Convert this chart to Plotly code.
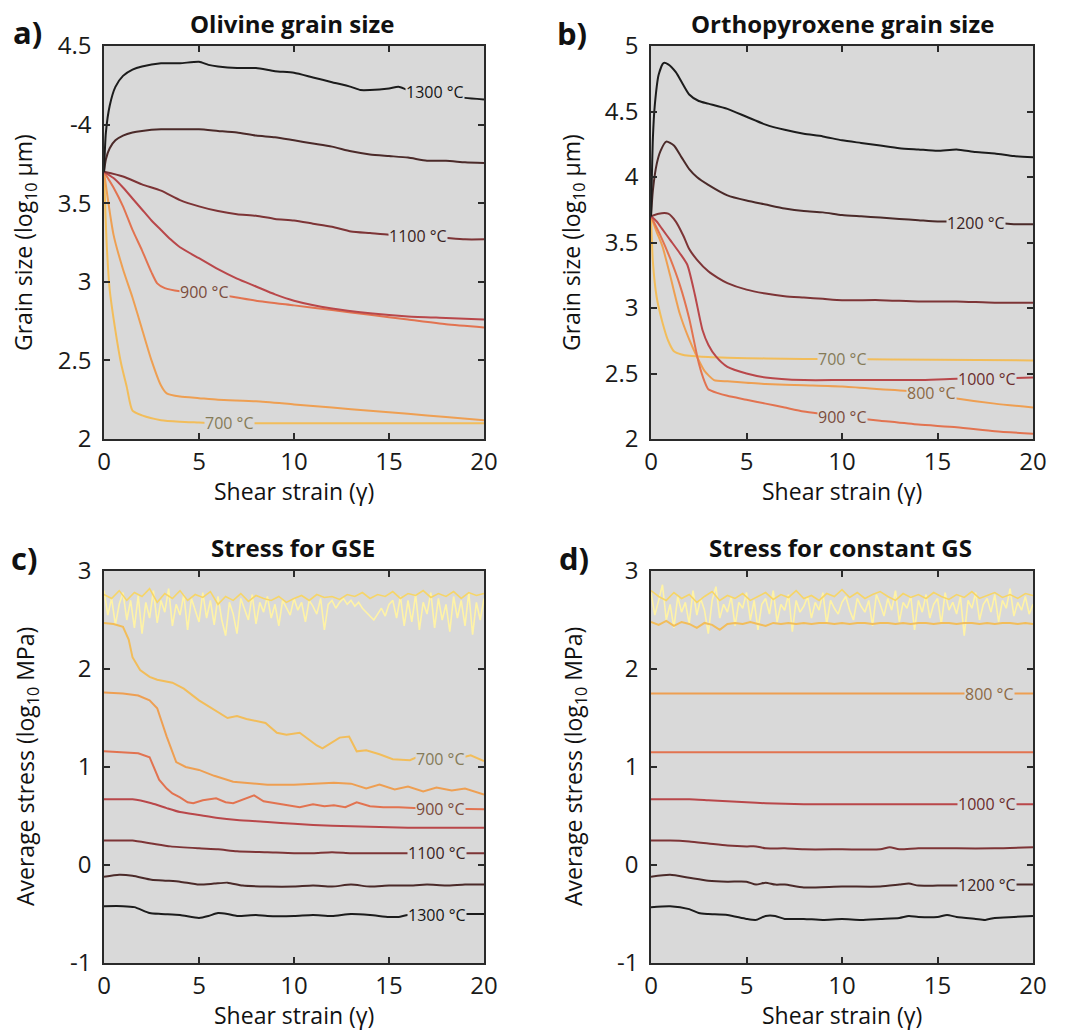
import numpy as np
import plotly.graph_objects as go

W, H = 1068, 1030
FONT = "Open Sans"
BG = "#d9d9d9"

# ---- colours per temperature ----
COL = {
    500: "#fff3a6", 600: "#f6d568", 700: "#f2bd5a", 800: "#ee9f52",
    900: "#e27350", 1000: "#b9474a", 1100: "#7d3436", 1200: "#4b2a29",
    1300: "#1c1c1c",
}
LBL = {
    700: "#857b58", 800: "#8d6a45", 900: "#7b4c3c", 1000: "#6b2d2d",
    1100: "#3a2323", 1200: "#3a2323", 1300: "#151515",
}

# ---- a) olivine grain size (log10 um) ----
ol_1300_x = [0, 0.1, 0.3, 0.6, 1, 1.5, 2, 3, 4, 5, 5.5, 6, 7, 8, 9, 10, 11, 12, 13, 13.5, 14, 15, 15.5, 16, 17, 18, 19, 20]
ol_1300_y = [3.7, 3.95, 4.12, 4.24, 4.31, 4.35, 4.37, 4.39, 4.39, 4.40, 4.38, 4.37, 4.36, 4.36, 4.34, 4.33, 4.30, 4.27, 4.24, 4.22, 4.22, 4.23, 4.24, 4.22, 4.20, 4.19, 4.17, 4.16]
ol_1200_x = [0, 0.1, 0.3, 0.6, 1, 1.5, 2, 3, 4, 5, 6, 7, 8, 9, 10, 11, 12, 13, 14, 15, 16, 17, 18, 19, 20]
ol_1200_y = [3.7, 3.78, 3.85, 3.9, 3.93, 3.95, 3.96, 3.97, 3.97, 3.97, 3.96, 3.95, 3.93, 3.92, 3.90, 3.88, 3.86, 3.83, 3.81, 3.80, 3.79, 3.77, 3.77, 3.76, 3.755]
ol_1100_x = [0, 1, 2, 3, 4, 5, 6, 7, 8, 9, 10, 11, 12, 13, 14, 15, 16, 17, 18, 19, 20]
ol_1100_y = [3.7, 3.67, 3.62, 3.58, 3.52, 3.48, 3.45, 3.43, 3.42, 3.40, 3.39, 3.37, 3.35, 3.32, 3.31, 3.30, 3.30, 3.29, 3.28, 3.27, 3.27]
ol_1000_x = [0, 0.5, 1, 1.5, 2, 2.5, 3, 3.5, 4, 5, 6, 7, 8, 9, 10, 12, 14, 16, 18, 20]
ol_1000_y = [3.7, 3.66, 3.6, 3.53, 3.46, 3.39, 3.33, 3.27, 3.22, 3.15, 3.08, 3.02, 2.97, 2.92, 2.88, 2.83, 2.80, 2.78, 2.77, 2.76]
ol_900_x = [0, 0.5, 1, 1.5, 2, 2.5, 2.8, 3.2, 4, 5, 6, 7, 8, 10, 12, 14, 16, 18, 20]
ol_900_y = [3.7, 3.6, 3.48, 3.33, 3.2, 3.06, 2.99, 2.96, 2.94, 2.93, 2.92, 2.90, 2.88, 2.85, 2.82, 2.79, 2.76, 2.73, 2.71]
ol_800_x = [0, 0.5, 1, 1.5, 2, 2.5, 3, 3.3, 4, 5, 6, 8, 10, 12, 14, 16, 18, 20]
ol_800_y = [3.7, 3.3, 3.08, 2.90, 2.70, 2.50, 2.34, 2.29, 2.27, 2.26, 2.25, 2.24, 2.22, 2.20, 2.18, 2.16, 2.14, 2.12]
ol_700_x = [0, 0.15, 0.3, 0.6, 0.9, 1.2, 1.5, 2, 3, 4, 5, 6, 8, 10, 15, 20]
ol_700_y = [3.7, 3.22, 2.95, 2.69, 2.48, 2.33, 2.18, 2.15, 2.12, 2.11, 2.105, 2.1, 2.1, 2.1, 2.1, 2.1]

# ---- b) orthopyroxene grain size (log10 um) ----
opx_1300_x = [0, 0.1, 0.2, 0.4, 0.65, 0.9, 1.3, 1.7, 2, 2.5, 3, 4, 5, 6, 7, 8, 9, 10, 11, 12, 13, 14, 15, 16, 17, 18, 19, 20]
opx_1300_y = [3.7, 4.3, 4.55, 4.78, 4.87, 4.86, 4.80, 4.70, 4.63, 4.58, 4.56, 4.52, 4.46, 4.40, 4.36, 4.33, 4.31, 4.28, 4.26, 4.24, 4.22, 4.21, 4.20, 4.21, 4.19, 4.18, 4.16, 4.15]
opx_1200_x = [0, 0.1, 0.3, 0.5, 0.8, 1.2, 1.6, 2, 2.4, 3, 4, 5, 6, 7, 8, 9, 10, 11, 12, 13, 14, 15, 16, 17, 18, 19, 20]
opx_1200_y = [3.7, 3.9, 4.1, 4.2, 4.27, 4.24, 4.15, 4.06, 4.00, 3.94, 3.86, 3.82, 3.79, 3.76, 3.74, 3.73, 3.71, 3.70, 3.69, 3.68, 3.67, 3.66, 3.66, 3.65, 3.65, 3.64, 3.64]
opx_1100_x = [0, 0.4, 0.9, 1.3, 1.7, 2, 2.4, 3, 3.5, 4, 5, 6, 7, 8, 9, 10, 12, 14, 16, 18, 20]
opx_1100_y = [3.7, 3.72, 3.72, 3.66, 3.55, 3.45, 3.37, 3.28, 3.23, 3.19, 3.14, 3.11, 3.09, 3.08, 3.07, 3.06, 3.06, 3.05, 3.05, 3.04, 3.04]
opx_1000_x = [0, 0.3, 0.6, 1, 1.5, 1.9, 2.3, 2.7, 3, 3.4, 4, 5, 6, 8, 10, 12, 14, 16, 18, 20]
opx_1000_y = [3.7, 3.66, 3.6, 3.52, 3.42, 3.33, 3.10, 2.83, 2.72, 2.63, 2.55, 2.50, 2.47, 2.45, 2.45, 2.45, 2.45, 2.46, 2.46, 2.47]
opx_900_x = [0, 0.5, 1, 1.5, 2, 2.5, 2.8, 3, 3.5, 4, 5, 6, 7, 8, 9, 10, 12, 14, 16, 18, 20]
opx_900_y = [3.7, 3.55, 3.38, 3.18, 2.92, 2.58, 2.44, 2.38, 2.35, 2.33, 2.30, 2.27, 2.24, 2.21, 2.19, 2.17, 2.14, 2.11, 2.09, 2.06, 2.04]
opx_800_x = [0, 0.3, 0.6, 1, 1.5, 2, 2.4, 2.8, 3.3, 4, 5, 6, 8, 10, 12, 14, 16, 18, 20]
opx_800_y = [3.7, 3.58, 3.47, 3.25, 2.96, 2.76, 2.63, 2.52, 2.45, 2.44, 2.43, 2.42, 2.41, 2.40, 2.38, 2.36, 2.31, 2.27, 2.24]
opx_700_x = [0, 0.1, 0.3, 0.6, 0.9, 1.2, 1.6, 2, 3, 4, 6, 8, 10, 15, 20]
opx_700_y = [3.7, 3.35, 3.08, 2.89, 2.75, 2.67, 2.645, 2.635, 2.625, 2.62, 2.615, 2.61, 2.61, 2.605, 2.60]

# ---- c) average stress with grain-size evolution (log10 MPa) ----
gse_500_y = [2.80, 2.55, 2.72, 2.45, 2.66, 2.78, 2.50, 2.70, 2.42, 2.75,
             2.36, 2.68, 2.52, 2.80, 2.47, 2.70, 2.58, 2.82, 2.44, 2.66,
             2.55, 2.76, 2.40, 2.72, 2.60, 2.48, 2.78, 2.52, 2.70, 2.45,
             2.74, 2.50, 2.34, 2.68, 2.56, 2.36, 2.72, 2.60, 2.50, 2.76,
             2.46, 2.68, 2.58, 2.74, 2.52, 2.66, 2.44, 2.70, 2.62, 2.55,
             2.72, 2.60, 2.68, 2.48, 2.70, 2.64, 2.56, 2.72, 2.40, 2.66,
             2.70, 2.62, 2.68, 2.72, 2.66, 2.70, 2.64, 2.68, 2.62, 2.58,
             2.55, 2.50, 2.56, 2.62, 2.54, 2.66, 2.70, 2.52, 2.74, 2.44,
             2.70, 2.48, 2.76, 2.40, 2.68, 2.56, 2.78, 2.42, 2.72, 2.50,
             2.66, 2.38, 2.74, 2.52, 2.70, 2.44, 2.78, 2.35, 2.68, 2.50, 2.72]
gse_600_y = [2.76, 2.72, 2.80, 2.70, 2.78, 2.74, 2.82, 2.68, 2.77, 2.72,
             2.80, 2.70, 2.76, 2.73, 2.79, 2.66, 2.74, 2.70, 2.77, 2.69,
             2.75, 2.72, 2.70, 2.74, 2.68, 2.72, 2.75, 2.70, 2.76, 2.73,
             2.74, 2.71, 2.76, 2.74, 2.78, 2.72, 2.76, 2.74, 2.79, 2.72,
             2.77, 2.75, 2.80, 2.73, 2.77, 2.74, 2.79, 2.72, 2.78, 2.75, 2.77]
gse_700_x = [0, 0.5, 1, 1.3, 1.5, 1.9, 2.4, 2.8, 3.6, 4.2, 5, 5.5, 6.5, 7, 7.5, 8.5, 9.1, 9.6, 10.3, 11.2, 11.5, 12.4, 12.9, 13.3, 13.8, 14.5, 15.2, 16.1, 16.7, 17.5, 18.5, 19.3, 20]
gse_700_y = [2.47, 2.46, 2.43, 2.30, 2.12, 1.99, 1.92, 1.89, 1.86, 1.80, 1.68, 1.62, 1.50, 1.52, 1.49, 1.45, 1.35, 1.33, 1.35, 1.22, 1.19, 1.30, 1.31, 1.16, 1.17, 1.13, 1.08, 1.07, 1.12, 1.10, 1.08, 1.12, 1.06]
gse_800_x = [0, 1, 1.8, 2.4, 2.8, 3.3, 3.8, 4.3, 5, 5.8, 6.8, 8.6, 10, 12.1, 13, 13.8, 14.5, 15.3, 16, 16.8, 17.5, 18.3, 19, 20]
gse_800_y = [1.76, 1.75, 1.73, 1.68, 1.60, 1.31, 1.05, 1.00, 0.97, 0.91, 0.85, 0.82, 0.82, 0.84, 0.83, 0.78, 0.82, 0.77, 0.80, 0.75, 0.79, 0.76, 0.78, 0.72]
gse_900_x = [0, 1, 1.8, 2.4, 2.9, 3.3, 3.6, 4.0, 4.4, 4.7, 5.2, 5.9, 6.4, 6.8, 7.3, 7.9, 8.4, 9.0, 9.6, 10.3, 11, 11.6, 12.1, 12.7, 13.3, 14, 14.7, 15.5, 16.6, 20]
gse_900_y = [1.16, 1.15, 1.14, 1.10, 0.87, 0.78, 0.73, 0.69, 0.64, 0.63, 0.66, 0.68, 0.64, 0.63, 0.67, 0.71, 0.65, 0.63, 0.61, 0.59, 0.62, 0.60, 0.61, 0.59, 0.64, 0.60, 0.59, 0.59, 0.58, 0.57]
gse_1000_x = [0, 1, 1.5, 2.5, 3.3, 4, 5, 6, 7, 8.6, 10, 12, 14, 16, 18, 20]
gse_1000_y = [0.67, 0.67, 0.67, 0.63, 0.58, 0.54, 0.51, 0.48, 0.46, 0.44, 0.42, 0.40, 0.39, 0.38, 0.38, 0.38]
gse_1100_x = [0, 1, 1.5, 2.5, 3.5, 5, 6, 7, 8.6, 10, 11, 12, 13, 14, 15, 16, 18, 20]
gse_1100_y = [0.25, 0.25, 0.25, 0.22, 0.19, 0.17, 0.16, 0.14, 0.13, 0.12, 0.12, 0.13, 0.12, 0.12, 0.12, 0.12, 0.12, 0.12]
gse_1200_x = [0, 0.8, 1.5, 2.5, 3.3, 4, 5, 5.8, 6.5, 7.3, 8.6, 10, 11, 12, 13, 14, 15, 16, 17, 18, 19, 20]
gse_1200_y = [-0.12, -0.10, -0.11, -0.15, -0.16, -0.17, -0.20, -0.19, -0.18, -0.21, -0.22, -0.22, -0.21, -0.22, -0.20, -0.22, -0.21, -0.21, -0.20, -0.21, -0.20, -0.20]
gse_1300_x = [0, 1, 1.6, 2.4, 3, 4, 5, 5.5, 6, 6.5, 7, 8, 8.6, 10, 11, 12, 13, 14, 15, 15.5, 16, 17, 18, 19, 20]
gse_1300_y = [-0.42, -0.42, -0.43, -0.49, -0.50, -0.51, -0.54, -0.52, -0.49, -0.50, -0.52, -0.51, -0.52, -0.52, -0.51, -0.52, -0.50, -0.51, -0.53, -0.53, -0.51, -0.51, -0.51, -0.50, -0.50]

# ---- d) average stress at constant grain size (log10 MPa) ----
cgs_500_y = [2.78, 2.55, 2.70, 2.86, 2.50, 2.66, 2.42, 2.74, 2.58, 2.68,
             2.46, 2.80, 2.55, 2.72, 2.60, 2.36, 2.70, 2.84, 2.52, 2.66,
             2.58, 2.74, 2.44, 2.68, 2.62, 2.78, 2.50, 2.70, 2.40, 2.66,
             2.72, 2.56, 2.80, 2.48, 2.66, 2.60, 2.76, 2.38, 2.70, 2.58,
             2.64, 2.74, 2.52, 2.68, 2.60, 2.78, 2.46, 2.70, 2.62, 2.56,
             2.68, 2.74, 2.60, 2.50, 2.72, 2.64, 2.58, 2.70, 2.44, 2.76,
             2.66, 2.54, 2.72, 2.60, 2.80, 2.48, 2.68, 2.62, 2.74, 2.40,
             2.70, 2.58, 2.76, 2.52, 2.66, 2.72, 2.46, 2.78, 2.60, 2.68,
             2.56, 2.74, 2.34, 2.70, 2.62, 2.78, 2.50, 2.66, 2.72, 2.58,
             2.76, 2.48, 2.70, 2.62, 2.82, 2.54, 2.68, 2.60, 2.74, 2.56, 2.66]
cgs_600_y = [2.80, 2.74, 2.70, 2.78, 2.72, 2.76, 2.68, 2.74, 2.79, 2.70,
             2.75, 2.72, 2.77, 2.70, 2.74, 2.78, 2.71, 2.76, 2.73, 2.80,
             2.72, 2.75, 2.70, 2.77, 2.74, 2.81, 2.73, 2.78, 2.72, 2.76,
             2.79, 2.74, 2.70, 2.77, 2.73, 2.76, 2.72, 2.78, 2.74, 2.71,
             2.76, 2.73, 2.79, 2.72, 2.75, 2.78, 2.73, 2.76, 2.72, 2.77, 2.75]
cgs_700_y = [2.48, 2.45, 2.49, 2.44, 2.48, 2.46, 2.42, 2.47, 2.45, 2.40,
             2.46, 2.47, 2.46, 2.48, 2.46, 2.44, 2.47, 2.46, 2.47, 2.46,
             2.47, 2.46, 2.47, 2.47, 2.46, 2.47, 2.46, 2.47, 2.47, 2.46,
             2.47, 2.47, 2.46, 2.47, 2.46, 2.47, 2.47, 2.46, 2.47, 2.47,
             2.46, 2.47, 2.47, 2.46, 2.47, 2.46, 2.47, 2.47, 2.46, 2.47, 2.46]
cgs_800_x = [0, 20]
cgs_800_y = [1.75, 1.75]
cgs_900_x = [0, 20]
cgs_900_y = [1.15, 1.15]
cgs_1000_x = [0, 1, 2, 3, 4, 5, 6, 8, 10, 12, 15, 20]
cgs_1000_y = [0.67, 0.67, 0.67, 0.66, 0.65, 0.64, 0.63, 0.62, 0.62, 0.62, 0.62, 0.62]
cgs_1100_x = [0, 1, 2, 3, 4, 5, 5.5, 6, 7, 8, 10, 12, 12.5, 13, 14, 16, 18, 20]
cgs_1100_y = [0.25, 0.25, 0.24, 0.22, 0.20, 0.19, 0.19, 0.17, 0.17, 0.16, 0.16, 0.16, 0.18, 0.16, 0.17, 0.17, 0.17, 0.18]
cgs_1200_x = [0, 1, 2, 3, 4, 5, 5.5, 6, 6.5, 7, 8, 10, 12, 13, 13.5, 14, 15, 16, 17, 18, 20]
cgs_1200_y = [-0.12, -0.10, -0.13, -0.16, -0.17, -0.17, -0.20, -0.18, -0.20, -0.20, -0.23, -0.22, -0.22, -0.20, -0.19, -0.21, -0.21, -0.21, -0.20, -0.20, -0.20]
cgs_1300_x = [0, 1, 2, 2.5, 3, 4, 5, 5.5, 6, 6.5, 7, 8, 9, 10, 11, 12, 13, 13.5, 14, 15, 15.5, 16, 17, 17.5, 18, 19, 20]
cgs_1300_y = [-0.43, -0.42, -0.45, -0.49, -0.50, -0.51, -0.55, -0.56, -0.52, -0.52, -0.55, -0.55, -0.56, -0.55, -0.56, -0.55, -0.54, -0.52, -0.53, -0.53, -0.51, -0.53, -0.55, -0.56, -0.54, -0.53, -0.52]


def grid(vals):
    """Evenly spaced strain values spanning 0-20 for a sampled series."""
    return list(np.linspace(0, 20, len(vals)))


# (x, y, temperature, smooth?)
panels = {
    "a": dict(ax="x", ay="y",
              series=[(ol_700_x, ol_700_y, 700, True), (ol_800_x, ol_800_y, 800, True),
                      (ol_900_x, ol_900_y, 900, True), (ol_1000_x, ol_1000_y, 1000, True),
                      (ol_1100_x, ol_1100_y, 1100, True), (ol_1200_x, ol_1200_y, 1200, True),
                      (ol_1300_x, ol_1300_y, 1300, True)],
              labels=[(17.4, 4.205, 1300), (16.5, 3.29, 1100), (5.3, 2.935, 900), (6.6, 2.10, 700)]),
    "b": dict(ax="x2", ay="y2",
              series=[(opx_700_x, opx_700_y, 700, True), (opx_800_x, opx_800_y, 800, True),
                      (opx_900_x, opx_900_y, 900, True), (opx_1000_x, opx_1000_y, 1000, True),
                      (opx_1100_x, opx_1100_y, 1100, True), (opx_1200_x, opx_1200_y, 1200, True),
                      (opx_1300_x, opx_1300_y, 1300, True)],
              labels=[(17.0, 3.65, 1200), (10.0, 2.61, 700), (17.6, 2.455, 1000),
                      (14.7, 2.35, 800), (10.0, 2.17, 900)]),
    "c": dict(ax="x3", ay="y3",
              series=[(grid(gse_500_y), gse_500_y, 500, False), (grid(gse_600_y), gse_600_y, 600, False),
                      (gse_700_x, gse_700_y, 700, False), (gse_800_x, gse_800_y, 800, False),
                      (gse_900_x, gse_900_y, 900, False), (gse_1000_x, gse_1000_y, 1000, True),
                      (gse_1100_x, gse_1100_y, 1100, True), (gse_1200_x, gse_1200_y, 1200, True),
                      (gse_1300_x, gse_1300_y, 1300, True)],
              labels=[(17.7, 1.08, 700), (17.7, 0.575, 900), (17.5, 0.12, 1100), (17.5, -0.51, 1300)]),
    "d": dict(ax="x4", ay="y4",
              series=[(grid(cgs_500_y), cgs_500_y, 500, False), (grid(cgs_600_y), cgs_600_y, 600, False),
                      (grid(cgs_700_y), cgs_700_y, 700, False), (cgs_800_x, cgs_800_y, 800, False),
                      (cgs_900_x, cgs_900_y, 900, False), (cgs_1000_x, cgs_1000_y, 1000, True),
                      (cgs_1100_x, cgs_1100_y, 1100, True), (cgs_1200_x, cgs_1200_y, 1200, True),
                      (cgs_1300_x, cgs_1300_y, 1300, True)],
              labels=[(17.7, 1.75, 800), (17.6, 0.62, 1000), (17.6, -0.205, 1200)]),
}

fig = go.Figure()
annotations = []

for key, p in panels.items():
    for xs, ys, t, smooth in p["series"]:
        line = dict(color=COL[t], width=2 if t > 600 else 1.6)
        if smooth:
            line.update(shape="spline", smoothing=0.6)
        fig.add_trace(go.Scatter(
            x=xs, y=ys, mode="lines", xaxis=p["ax"], yaxis=p["ay"],
            line=line, showlegend=False, hoverinfo="skip"))
    for lx, ly, t in p["labels"]:
        annotations.append(dict(
            x=lx, y=ly, xref=p["ax"], yref=p["ay"], text=f"{t} °C",
            showarrow=False, bgcolor=BG, borderpad=0,
            font=dict(family=FONT, size=16, color=LBL[t])))

# ---- axes (fixed pixel placement, no automatic margins) ----
XL = [104 / W, 484 / W]
XR = [651 / W, 1033 / W]
YT = [1 - 439 / H, 1 - 46 / H]
YB = [1 - 963 / H, 1 - 571 / H]

axis_common = dict(showline=True, linecolor="#2a2a2a", linewidth=1.5, mirror="ticks",
                   ticks="inside", ticklen=6, tickwidth=1.5, tickcolor="#2a2a2a",
                   showgrid=False, zeroline=False, automargin=False,
                   tickfont=dict(family=FONT, size=24, color="#1a1a1a"))

xtick = dict(range=[0, 20], tickvals=[0, 5, 10, 15, 20], ticktext=["0", "5", "10", "15", "20"])

layout = dict(
    width=W, height=H, margin=dict(l=0, r=0, t=0, b=0, pad=0),
    paper_bgcolor="white", plot_bgcolor=BG, showlegend=False,
    xaxis=dict(domain=XL, anchor="y", **xtick, **axis_common),
    yaxis=dict(domain=YT, anchor="x", range=[2, 4.5], tickvals=[2, 2.5, 3, 3.5, 4, 4.5],
               ticktext=["2", "2.5", "3", "3.5", "-4", "4.5"], ticklabelstandoff=6, **axis_common),
    xaxis2=dict(domain=XR, anchor="y2", **xtick, **axis_common),
    yaxis2=dict(domain=YT, anchor="x2", range=[2, 5], tickvals=[2, 2.5, 3, 3.5, 4, 4.5, 5],
                ticktext=["2", "2.5", "3", "3.5", "4", "4.5", "5"], ticklabelstandoff=6, **axis_common),
    xaxis3=dict(domain=XL, anchor="y3", **xtick, **axis_common),
    yaxis3=dict(domain=YB, anchor="x3", range=[-1, 3], tickvals=[-1, 0, 1, 2, 3],
                ticktext=["-1", "0", "1", "2", "3"], ticklabelstandoff=6, **axis_common),
    xaxis4=dict(domain=XR, anchor="y4", **xtick, **axis_common),
    yaxis4=dict(domain=YB, anchor="x4", range=[-1, 3], tickvals=[-1, 0, 1, 2, 3],
                ticktext=["-1", "0", "1", "2", "3"], ticklabelstandoff=6, **axis_common),
)


def paper_text(text, px, py, size, bold=False, angle=0, xanchor="center"):
    annotations.append(dict(
        x=px / W, y=1 - py / H, xref="paper", yref="paper", text=f"<b>{text}</b>" if bold else text,
        showarrow=False, textangle=angle, xanchor=xanchor, yanchor="middle",
        font=dict(family=FONT, size=size, color="#111111")))


# panel titles and letters
paper_text("Olivine grain size", 292, 23, 24, bold=True)
paper_text("Orthopyroxene grain size", 842, 23, 24, bold=True)
paper_text("Stress for GSE", 293, 547, 24, bold=True)
paper_text("Stress for constant GS", 840, 547, 24, bold=True)
paper_text("a)", 27, 32, 31, bold=True)
paper_text("b)", 572, 33, 31, bold=True)
paper_text("c)", 24, 558, 31, bold=True)
paper_text("d)", 574, 558, 31, bold=True)

# axis titles
for cx in (294, 842):
    paper_text("Shear strain (γ)", cx, 491, 23)
    paper_text("Shear strain (γ)", cx, 1015, 23)
paper_text("Grain size (log<sub>10</sub> µm)", 24, 243, 23, angle=-90)
paper_text("Grain size (log<sub>10</sub> µm)", 572, 243, 23, angle=-90)
paper_text("Average stress (log<sub>10</sub> MPa)", 26, 767, 23, angle=-90)
paper_text("Average stress (log<sub>10</sub> MPa)", 574, 767, 23, angle=-90)

layout["annotations"] = annotations
fig.update_layout(**layout)
fig.write_html("out.html")
